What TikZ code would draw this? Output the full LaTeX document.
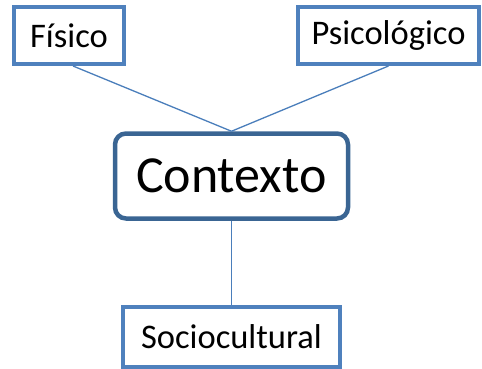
\documentclass[tikz,border=0pt]{standalone}
\usepackage{fontspec}
\setmainfont{Carlito}
\definecolor{boxblue}{HTML}{4F81BD}
\definecolor{darkblue}{HTML}{3A6593}
\definecolor{linkblue}{HTML}{4A7EBB}
\begin{document}
\begin{tikzpicture}[x=1pt,y=-1pt,
  leaf/.style={draw=boxblue,line width=4pt,fill=white,inner sep=0pt,
    font=\fontsize{34.5}{40}\selectfont},
  hub/.style={draw=darkblue,line width=4.5pt,fill=white,rounded corners=11pt,inner sep=0pt,
    font=\fontsize{52}{60}\selectfont},
  link/.style={draw=linkblue,line width=1.3pt}]
\useasboundingbox (0,0) rectangle (482,369);
\node[leaf,minimum width=110pt,minimum height=57pt] (fis) at (69,35.5) {Físico};
\node[leaf,minimum width=181pt,minimum height=57pt] (psi) at (388.5,35.5) {Psicológico};
\node[hub,minimum width=233pt,minimum height=85pt] (ctx) at (231.5,176) {Contexto};
\node[leaf,minimum width=217pt,minimum height=60pt] (soc) at (231.5,337) {Sociocultural};
\draw[link] ([xshift=4pt]fis.south) -- (ctx.north);
\draw[link] (psi.south) -- (ctx.north);
\draw[link] (ctx.south) -- (soc.north);
\end{tikzpicture}
\end{document}
